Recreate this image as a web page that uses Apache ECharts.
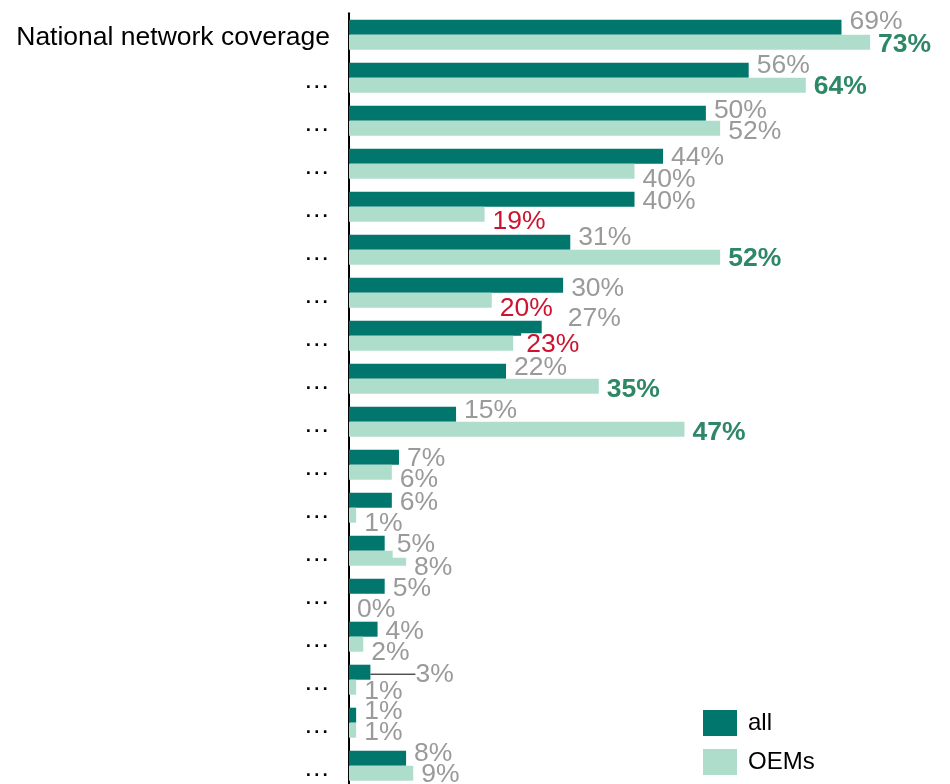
<!DOCTYPE html>
<html>
<head>
<meta charset="utf-8">
<script src="https://cdn.jsdelivr.net/npm/echarts@6/dist/echarts.min.js"></script>
<style>
  html, body { margin: 0; padding: 0; background: #fff; }
  #chart { width: 950px; height: 784px; }
</style>
</head>
<body>
<div id="chart"></div>
<script>
// Categories (top to bottom)
const categories = [
  'National network coverage', '…', '…', '…', '…', '…', '…', '…', '…',
  '…', '…', '…', '…', '…', '…', '…', '…', '…'
];
// Share of respondents, percent
const allValues = [69, 56, 50, 44, 40, 31, 30, 27, 22, 15, 7, 6, 5, 5, 4, 3, 1, 8];
const oemValues = [73, 64, 52, 40, 19, 52, 20, 23, 35, 47, 6, 1, 8, 0, 2, 1, 1, 9];
// OEM answers flagged as clearly above ('up') or below ('down') the overall figure
const oemTone = ['up', 'up', '', '', 'down', 'up', 'down', 'down', 'up', 'up', '', '', '', '', '', '', '', ''];
const seriesNames = ['all', 'OEMs'];

const FONT = '"Liberation Sans", Arial, Helvetica, sans-serif';
const FS = 26.5;
const DARK = '#00766C';
const LIGHT = '#AEDECB';
const GREY = '#9A9A9A';
const GREEN = '#2E8767';
const RED = '#CC1430';

// Hand placement of value labels, [dx, dy] in px
const allNudge = [[0,-8],[0,-7],[0,-5],[0,-1],[0,0],[0,-7],[0,1],[18,-12],[0,-6],[0,-6],
                  [0,-1],[0,0],[0,-1],[0,0],[0,0],[37,0],[0,-6],[0,-7]];
const oemNudge = [[0,0],[0,-1],[0,1],[0,6],[0,5],[0,-1],[0,6],[0,-1],[0,1],[0,1],
                  [0,5],[0,6],[0,7],[0,6],[0,6],[0,2],[0,0],[0,-1]];
const BASE_DY = 2;

const pct = p => p.value + '%';

const allData = allValues.map((v, i) => {
  const item = { value: v };
  if (i === 15) {
    item.labelLine = { show: true, lineStyle: { color: '#000', width: 1 } };
  }
  if (i === 12) {
    item.label = { backgroundColor: '#fff', padding: [0, 0, 0, 4] };
  }
  return item;
});

const oemData = oemValues.map((v, i) => {
  const t = oemTone[i];
  const label = {};
  if (t === 'up') { label.color = GREEN; label.fontWeight = 'bold'; }
  if (t === 'down') { label.color = RED; }
  if (i === 7) {
    // white box behind this label cuts into the bar above it
    label.backgroundColor = '#fff';
    label.lineHeight = 18;
    label.padding = [4, 2, 0, 5];
  }
  return { value: v, label };
});

const valueLabel = {
  show: true, position: 'right', distance: 8,
  formatter: pct, fontSize: FS, color: GREY, fontFamily: FONT
};

const chart = echarts.init(document.getElementById('chart'), null, { renderer: 'canvas' });
chart.setOption({
  animation: false,
  backgroundColor: '#fff',
  textStyle: { fontFamily: FONT },
  grid: {
    left: 349, top: 13.2, width: 571, height: 774,
    containLabel: false, outerBoundsMode: 'none'
  },
  xAxis: { type: 'value', min: 0, max: 80, show: false },
  yAxis: {
    type: 'category',
    inverse: true,
    data: categories,
    axisLine: { show: true, lineStyle: { color: '#000', width: 2 } },
    axisTick: { show: false },
    axisLabel: {
      margin: 19,
      formatter: v => '{c|' + v + '}',
      rich: {
        c: { fontSize: FS, color: '#000', fontFamily: FONT, padding: [6, 0, 0, 0] }
      }
    },
    splitLine: { show: false }
  },
  legend: {
    orient: 'vertical',
    left: 703, top: 710,
    padding: 0,
    itemWidth: 34, itemHeight: 26, itemGap: 13,
    icon: 'rect',
    data: seriesNames,
    textStyle: { fontSize: 24, color: '#000', fontFamily: FONT, padding: [2, 0, 0, 6] }
  },
  series: [
    {
      name: seriesNames[0],
      type: 'bar',
      data: allData,
      barWidth: 15,
      barGap: '0%',
      itemStyle: { color: DARK },
      label: valueLabel,
      labelLayout: p => ({ dx: allNudge[p.dataIndex][0], dy: allNudge[p.dataIndex][1] + BASE_DY })
    },
    {
      name: seriesNames[1],
      type: 'bar',
      data: oemData,
      barWidth: 15,
      barGap: '0%',
      itemStyle: { color: LIGHT },
      label: valueLabel,
      labelLayout: p => ({ dx: oemNudge[p.dataIndex][0], dy: oemNudge[p.dataIndex][1] + BASE_DY })
    }
  ]
});
</script>
</body>
</html>
